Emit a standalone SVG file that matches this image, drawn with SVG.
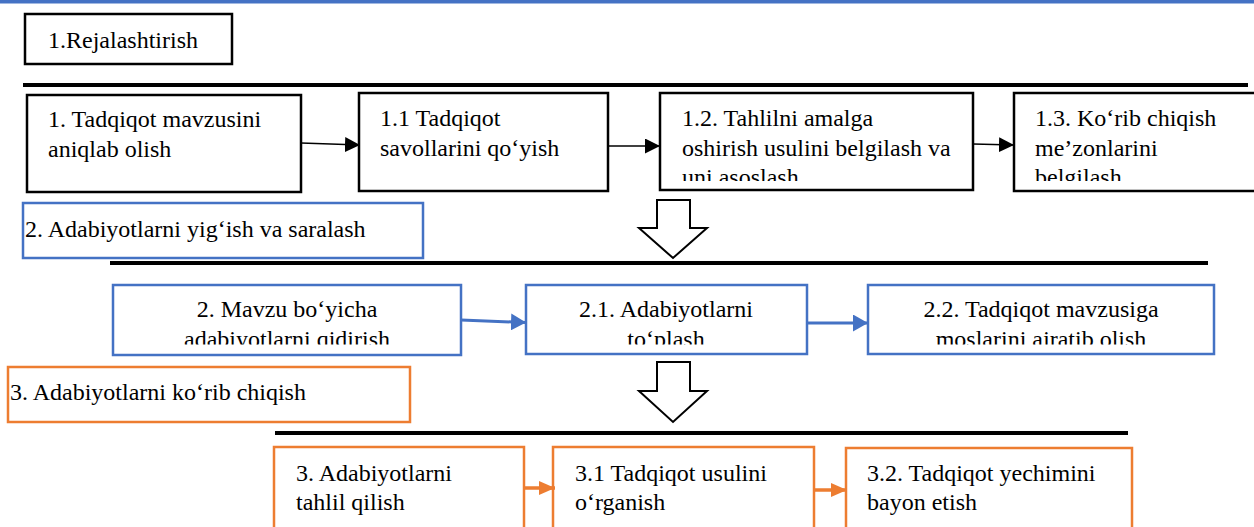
<svg xmlns="http://www.w3.org/2000/svg" width="1254" height="527" viewBox="0 0 1254 527">
<defs>
<style>
 text { font-family: "Liberation Serif", "Times New Roman", serif; font-size: 24px; fill: #000; }
 .mid { text-anchor: middle; }
 .bk { fill: #fff; stroke: #000; stroke-width: 2.5; }
 .bl { fill: #fff; stroke: #4472C4; stroke-width: 2.5; }
 .or { fill: #fff; stroke: #ED7D31; stroke-width: 2.5; }
 .rule { stroke: #000; stroke-width: 4; fill: none; }
 .big { fill: #fff; stroke: #000; stroke-width: 2; stroke-linejoin: miter; }
 .c-bk { stroke: #000; stroke-width: 1.5; fill: none; marker-end: url(#ah-bk); }
 .c-bl { stroke: #4472C4; stroke-width: 3; fill: none; marker-end: url(#ah-bl); }
 .c-or { stroke: #ED7D31; stroke-width: 3.5; fill: none; marker-end: url(#ah-or); }
</style>
<marker id="ah-bk" markerUnits="userSpaceOnUse" viewBox="0 0 15 15" markerWidth="15" markerHeight="15" refX="15" refY="7.5" orient="auto"><path d="M0,0 L15,7.5 L0,15 Z" fill="#000"/></marker>
<marker id="ah-bl" markerUnits="userSpaceOnUse" viewBox="0 0 15 17" markerWidth="15" markerHeight="17" refX="15" refY="8.5" orient="auto"><path d="M0,0 L15,8.5 L0,17 Z" fill="#4472C4"/></marker>
<marker id="ah-or" markerUnits="userSpaceOnUse" viewBox="0 0 16 14" markerWidth="16" markerHeight="14" refX="16" refY="7" orient="auto"><path d="M0,0 L16,7 L0,14 Z" fill="#ED7D31"/></marker>
<clipPath id="clip-r1"><rect x="0" y="0" width="1254" height="181"/></clipPath>
<clipPath id="clip-r2"><rect x="0" y="0" width="1254" height="344.5"/></clipPath>
</defs>

<rect x="0" y="0" width="1254" height="3.5" fill="#4472C4"/>

<g id="rules">
 <line class="rule" x1="23" y1="85" x2="1248" y2="85"/>
 <line class="rule" x1="110" y1="263" x2="1208" y2="263"/>
 <line class="rule" x1="275" y1="433" x2="1128" y2="433"/>
</g>

<g id="h1">
 <rect class="bk" x="25" y="14" width="207" height="50"/>
 <text x="48" y="48">1.Rejalashtirish</text>
</g>

<g id="n1">
 <rect class="bk" x="27" y="95" width="274" height="97"/>
 <text x="48" y="127">1. Tadqiqot mavzusini</text>
 <text x="48" y="156.5">aniqlab olish</text>
</g>
<g id="n1-1">
 <rect class="bk" x="359" y="93" width="249" height="98"/>
 <text x="380" y="126">1.1 Tadqiqot</text>
 <text x="380" y="155.5">savollarini qo‘yish</text>
</g>
<g id="n1-2">
 <rect class="bk" x="660" y="93" width="313" height="97"/>
 <g clip-path="url(#clip-r1)">
  <text x="682" y="126">1.2. Tahlilni amalga</text>
  <text x="682" y="155.5">oshirish usulini belgilash va</text>
  <text x="682" y="185">uni asoslash</text>
 </g>
</g>
<g id="n1-3">
 <rect class="bk" x="1014" y="93" width="260" height="98"/>
 <g clip-path="url(#clip-r1)">
  <text x="1035" y="126">1.3. Ko‘rib chiqish</text>
  <text x="1035" y="155.5">me’zonlarini</text>
  <text x="1035" y="185">belgilash</text>
 </g>
</g>

<g id="h2">
 <rect class="bl" x="23" y="203" width="400" height="55"/>
 <text x="25" y="237">2. Adabiyotlarni yig‘ish va saralash</text>
</g>

<g id="n2">
 <rect class="bl" x="113" y="285" width="348" height="70"/>
 <g clip-path="url(#clip-r2)">
  <text class="mid" x="287" y="317">2. Mavzu bo‘yicha</text>
  <text class="mid" x="287" y="347">adabiyotlarni qidirish</text>
 </g>
</g>
<g id="n2-1">
 <rect class="bl" x="526" y="285" width="281" height="69"/>
 <g clip-path="url(#clip-r2)">
  <text class="mid" x="666" y="317">2.1. Adabiyotlarni</text>
  <text class="mid" x="666" y="347">to‘plash</text>
 </g>
</g>
<g id="n2-2">
 <rect class="bl" x="868" y="285" width="346" height="69"/>
 <g clip-path="url(#clip-r2)">
  <text class="mid" x="1041" y="317">2.2. Tadqiqot mavzusiga</text>
  <text class="mid" x="1041" y="347">moslarini ajratib olish</text>
 </g>
</g>

<g id="h3">
 <rect class="or" x="8" y="367" width="402" height="55"/>
 <text x="10" y="400">3. Adabiyotlarni ko‘rib chiqish</text>
</g>

<g id="n3">
 <rect class="or" x="274" y="447" width="250" height="100"/>
 <text x="296" y="481">3. Adabiyotlarni</text>
 <text x="296" y="510">tahlil qilish</text>
</g>
<g id="n3-1">
 <rect class="or" x="553" y="447" width="261" height="100"/>
 <text x="575" y="481">3.1 Tadqiqot usulini</text>
 <text x="575" y="510">o‘rganish</text>
</g>
<g id="n3-2">
 <rect class="or" x="846" y="448" width="286" height="100"/>
 <text x="867" y="481">3.2. Tadqiqot yechimini</text>
 <text x="867" y="510">bayon etish</text>
</g>

<g id="connectors">
 <line class="c-bk" x1="301" y1="143" x2="360" y2="145"/>
 <line class="c-bk" x1="608" y1="146" x2="660" y2="146"/>
 <line class="c-bk" x1="973" y1="144" x2="1014" y2="145"/>
 <polygon class="big" points="657,200 690,200 690,228 707,228 673,258 639,228 657,228"/>
 <line class="c-bl" x1="461" y1="320" x2="526" y2="322.5"/>
 <line class="c-bl" x1="807" y1="323" x2="868" y2="323"/>
 <polygon class="big" points="657,362 690,362 690,391 707,391 673,422 639,391 657,391"/>
 <line class="c-or" x1="524" y1="488" x2="555" y2="488"/>
 <line class="c-or" x1="814" y1="490" x2="847" y2="490"/>
</g>
</svg>
